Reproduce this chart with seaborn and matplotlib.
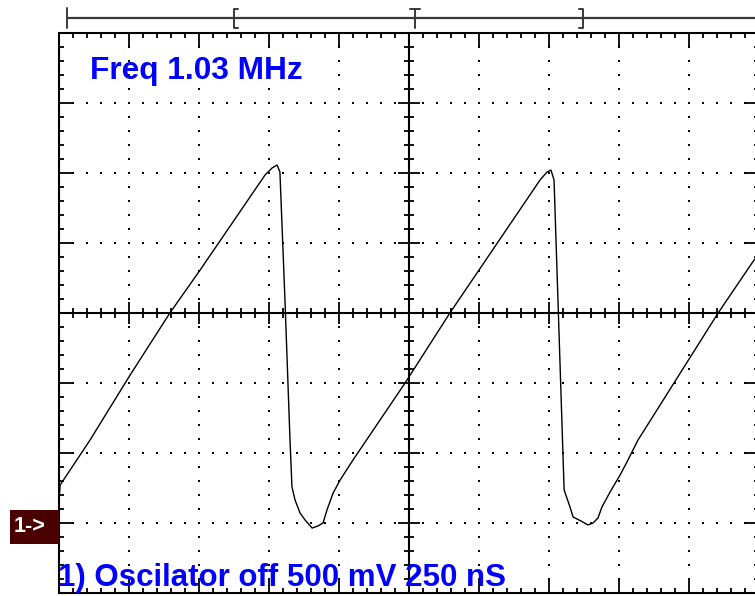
import numpy as np
import pandas as pd
import matplotlib
matplotlib.use("Agg")
import matplotlib.pyplot as plt
from matplotlib.patches import Rectangle
import seaborn as sns

# ---------------- data ----------------
# time from left edge of screen (ns), 250 ns/div
time_ns = [0, 4, 111, 254, 396, 504, 736, 761, 779, 789, 807, 825, 832, 843,
           861, 879, 904, 925, 943, 957, 979, 1004, 1050, 1236, 1396, 1718,
           1743, 1757, 1768, 1782, 1804, 1825, 1836, 1871, 1889, 1907, 1925,
           1939, 1968, 2004, 2032, 2068, 2354, 2475, 2504]
# channel 1 voltage relative to its ground marker (mV), 500 mV/div
volt_mV = [150, 271, 593, 1057, 1500, 1807, 2486, 2536, 2557, 2507, 1593,
           593, 257, 164, 71, 21, -36, -21, 0, 93, 214, 307, 450, 1000, 1500,
           2450, 2507, 2521, 2450, 1593, 236, 114, 43, 7, -14, 0, 36, 114,
           221, 343, 450, 593, 1500, 1857, 1936]

ns_per_div = 250
mv_per_div = 500
n_xdiv = 10
n_ydiv = 8
ground_div = -3          # channel marker row, relative to centre
freq_text = "Freq 1.03 MHz"
channel_text = "1) Oscilator off 500 mV 250 nS"
marker_text = "1->"

# ---------------- figure ----------------
sns.set_theme(style="white")
plt.rcParams["font.family"] = ["Liberation Sans", "DejaVu Sans"]

W, H = 755, 596
fig = plt.figure(figsize=(W / 100, H / 100), dpi=100)
fig.patch.set_facecolor("white")

ax = fig.add_axes([59 / W, 3 / H, 700 / W, 560 / H])
ax.set_facecolor("white")

x0, x1 = 0, n_xdiv * ns_per_div
y_center = -ground_div * mv_per_div
y0 = y_center - n_ydiv / 2 * mv_per_div
y1 = y_center + n_ydiv / 2 * mv_per_div

# dotted graticule
minor_x = np.arange(x0, x1 + 1, ns_per_div / 5)
minor_y = np.arange(y0, y1 + 1, mv_per_div / 5)
for k in range(1, n_xdiv):
    xv = x0 + k * ns_per_div
    if k == n_xdiv // 2:
        continue
    ax.plot(np.full_like(minor_y, xv), minor_y, ls="none", marker="s",
            ms=1.6, mew=0, color="black", zorder=1)
for k in range(1, n_ydiv):
    yv = y0 + k * mv_per_div
    if k == n_ydiv // 2:
        continue
    ax.plot(minor_x, np.full_like(minor_x, yv), ls="none", marker="s",
            ms=1.6, mew=0, color="black", zorder=1)

# centre cross lines with ticks
xc = (x0 + x1) / 2
ax.axvline(xc, color="black", lw=1.5, zorder=2)
ax.axhline(y_center, color="black", lw=1.5, zorder=2)
is_major_y = np.isclose((minor_y - y0) % mv_per_div, 0)
is_major_x = np.isclose((minor_x - x0) % ns_per_div, 0)
ax.plot(np.full(np.sum(~is_major_y), xc), minor_y[~is_major_y], ls="none",
        marker="_", ms=7, mew=1.3, color="black", zorder=2)
ax.plot(np.full(np.sum(is_major_y), xc), minor_y[is_major_y], ls="none",
        marker="_", ms=16, mew=1.3, color="black", zorder=2)
ax.plot(minor_x[~is_major_x], np.full(np.sum(~is_major_x), y_center),
        ls="none", marker="|", ms=7, mew=1.3, color="black", zorder=2)
ax.plot(minor_x[is_major_x], np.full(np.sum(is_major_x), y_center),
        ls="none", marker="|", ms=16, mew=1.3, color="black", zorder=2)

# waveform
df = pd.DataFrame({"t": time_ns, "v": volt_mV})
sns.lineplot(data=df, x="t", y="v", ax=ax, color="black", lw=1.0,
             sort=False, estimator=None, zorder=3)

ax.set_xlim(x0, x1)
ax.set_ylim(y0, y1)
ax.set_xticks(np.arange(x0, x1 + 1, ns_per_div))
ax.set_xticks(minor_x, minor=True)
ax.set_yticks(np.arange(y0, y1 + 1, mv_per_div))
ax.set_yticks(minor_y, minor=True)
ax.tick_params(which="both", direction="in", top=True, right=True,
               bottom=True, left=True, labelbottom=False, labelleft=False,
               color="black")
ax.tick_params(which="major", length=10, width=1.3)
ax.tick_params(which="minor", length=3.6, width=1.3)
ax.set_xlabel("")
ax.set_ylabel("")
for s in ax.spines.values():
    s.set_visible(True)
    s.set_color("black")
    s.set_linewidth(1.5)

# ---------------- overlay in pixel coordinates ----------------
ov = fig.add_axes([0, 0, 1, 1])
ov.set_xlim(0, W)
ov.set_ylim(H, 0)
ov.axis("off")
ov.patch.set_visible(False)

bar_c = "#3a3a3a"
ov.plot([67, W], [18, 18], color=bar_c, lw=1.6)
ov.plot([67, 67], [8, 28], color=bar_c, lw=1.4)
# [
ov.plot([238, 234, 234, 238], [9, 9, 28, 28], color=bar_c, lw=1.4)
# T
ov.plot([410, 420], [9, 9], color=bar_c, lw=1.4)
ov.plot([415, 415], [9, 28], color=bar_c, lw=1.4)
# ]
ov.plot([579, 583, 583, 579], [9, 9, 28, 28], color=bar_c, lw=1.4)

ov.text(90, 79, freq_text, color="#0000ff", fontsize=22.8, fontweight="bold",
        ha="left", va="baseline")
ov.text(58, 586, channel_text, color="#0000ff", fontsize=22.5,
        fontweight="bold", ha="left", va="baseline")

ov.add_patch(Rectangle((10, 510), 49, 34, facecolor="#4a0000",
                       edgecolor="none"))
ov.text(14, 527, marker_text, color="white", fontsize=15.5,
        fontweight="bold", ha="left", va="center")

fig.savefig("out.png", dpi=100, facecolor="white")
